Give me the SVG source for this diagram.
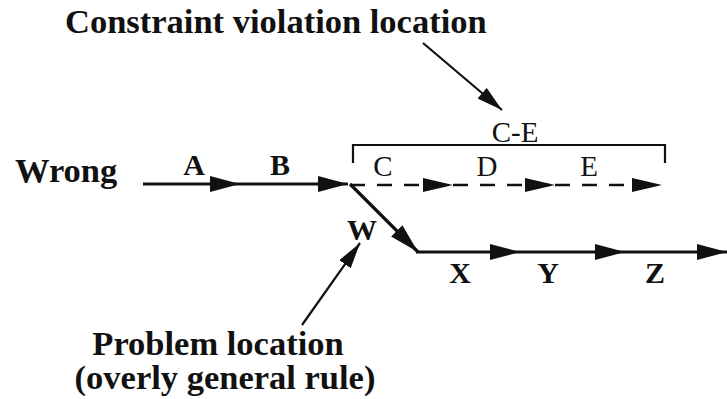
<svg xmlns="http://www.w3.org/2000/svg" width="727" height="399" viewBox="0 0 727 399">
<style>
  text { font-family: "Liberation Serif", "Times New Roman", serif; fill: #111; }
  .b { font-weight: bold; }
  .big { font-size: 34.5px; }
  .lab { font-size: 30px; }
  .reg { font-size: 29px; font-weight: normal; }
  .ln { stroke: #111; stroke-width: 3.2; fill: none; }
  .dash { stroke: #111; stroke-width: 2.6; fill: none; stroke-dasharray: 15 12; }
  .thin { stroke: #111; stroke-width: 2.2; fill: none; }
</style>
<defs>
  <marker id="ah" markerUnits="userSpaceOnUse" markerWidth="30" markerHeight="16" refX="30" refY="8" orient="auto">
    <path d="M0,0 L30,8 L0,16 z" fill="#111"/>
  </marker>
  <marker id="ahs" markerUnits="userSpaceOnUse" markerWidth="30" markerHeight="14" refX="30" refY="7" orient="auto">
    <path d="M0,0 L30,7 L0,14 z" fill="#111"/>
  </marker>
  <marker id="aht" markerUnits="userSpaceOnUse" markerWidth="26" markerHeight="14" refX="26" refY="7" orient="auto">
    <path d="M0,0 L26,7 L0,14 z" fill="#111"/>
  </marker>
</defs>

<g id="title">
  <text class="b big" x="65" y="33">Constraint violation location</text>
</g>
<g id="problem">
  <text class="b big" x="218" y="355" text-anchor="middle">Problem location</text>
  <text class="b big" x="225" y="389" text-anchor="middle">(overly general rule)</text>
</g>
<g id="wrong">
  <text class="b big" x="15" y="182">Wrong</text>
</g>
<g id="bracket">
  <path class="thin" d="M353,163 L353,145 L665,145 L665,163"/>
  <text class="reg" x="515" y="142" text-anchor="middle">C-E</text>
</g>
<g id="labels">
  <text class="b lab" x="194" y="175" text-anchor="middle">A</text>
  <text class="b lab" x="280" y="175" text-anchor="middle">B</text>
  <text class="reg" x="383" y="176" text-anchor="middle">C</text>
  <text class="reg" x="487" y="176" text-anchor="middle">D</text>
  <text class="reg" x="589" y="176" text-anchor="middle">E</text>
  <text class="b lab" x="362" y="240" text-anchor="middle">W</text>
  <text class="b lab" x="460" y="283" text-anchor="middle">X</text>
  <text class="b lab" x="548" y="283" text-anchor="middle">Y</text>
  <text class="b lab" x="655" y="283" text-anchor="middle">Z</text>
</g>
<g id="connectors">
  <line class="ln" x1="143" y1="184" x2="240" y2="184" marker-end="url(#ah)"/>
  <line class="ln" x1="240" y1="184" x2="348" y2="184" marker-end="url(#ah)"/>
  <line class="dash" x1="350" y1="185" x2="453" y2="185" marker-end="url(#ahs)"/>
  <line class="dash" x1="453" y1="185" x2="555" y2="185" marker-end="url(#ahs)"/>
  <line class="dash" x1="555" y1="185" x2="662" y2="185" marker-end="url(#ahs)"/>
  <line class="ln" x1="350" y1="184" x2="418" y2="252" marker-end="url(#ah)"/>
  <line class="ln" x1="416" y1="252" x2="520" y2="252" marker-end="url(#ah)"/>
  <line class="ln" x1="520" y1="252" x2="625" y2="252" marker-end="url(#ah)"/>
  <line class="ln" x1="625" y1="252" x2="727" y2="252" marker-end="url(#ah)"/>
  <line class="thin" x1="423" y1="43" x2="502" y2="110" marker-end="url(#aht)"/>
  <line class="thin" x1="302" y1="325" x2="360" y2="243" marker-end="url(#aht)"/>
</g>
</svg>
